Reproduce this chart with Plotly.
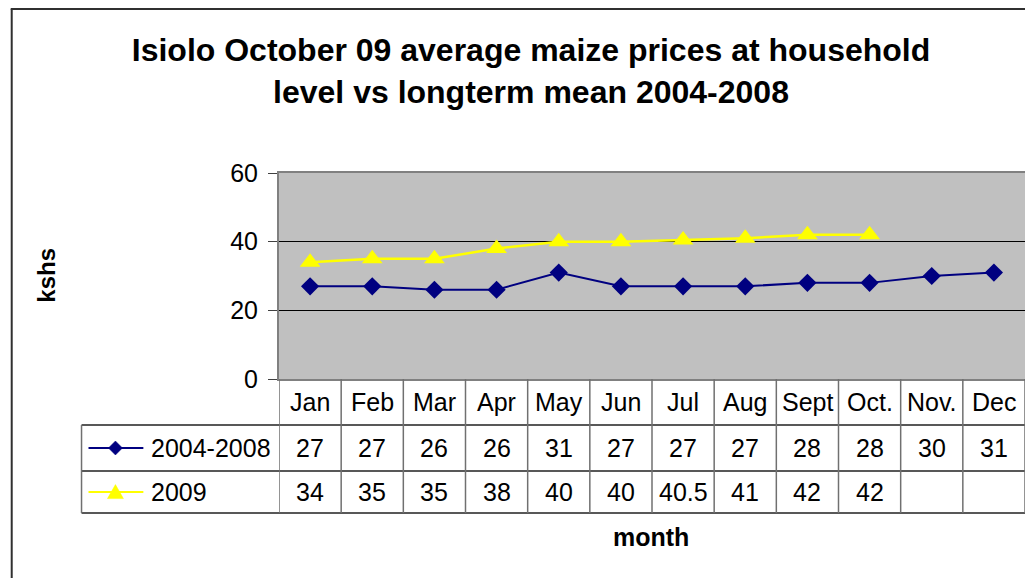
import plotly.graph_objects as go

months = ["Jan", "Feb", "Mar", "Apr", "May", "Jun", "Jul", "Aug", "Sept", "Oct.", "Nov.", "Dec"]
mean_2004_2008 = [27, 27, 26, 26, 31, 27, 27, 27, 28, 28, 30, 31]
prices_2009 = [34, 35, 35, 38, 40, 40, 40.5, 41, 42, 42, None, None]
series_names = ["2004-2008", "2009"]
y_ticks = [0, 20, 40, 60]

FONT = "Liberation Sans, Arial, sans-serif"
NAVY = "#000080"
YELLOW = "#FFFF00"

# the page body has an 8px margin; work in reference pixels and shift
OFF = 8
W, H = 1033 - OFF, 578 - OFF
PL, PR, PT, PB = 279, 1027, 173, 379      # plot area in reference pixels
pw, ph = PR - PL, PB - PT


def px(x):
    return (x - PL) / pw


def py(y):
    return (PB - y) / ph


fig = go.Figure()
fig.add_trace(go.Scatter(
    x=months, y=mean_2004_2008, mode="lines+markers", name=series_names[0],
    line=dict(color=NAVY, width=2),
    marker=dict(symbol="diamond", size=14, color=NAVY),
    showlegend=False))
fig.add_trace(go.Scatter(
    x=months, y=prices_2009, mode="lines+markers", name=series_names[1],
    line=dict(color=YELLOW, width=2.5),
    marker=dict(symbol="triangle-up", size=18, color=YELLOW),
    showlegend=False))

shapes = []
annotations = []

row_top, row1, row2, row_bot = 379, 425, 471, 513
legend_left = 81
LINE_DARK = "#202020"
LINE_GRAY = "#707070"
TFS = 25

# horizontal table lines
for yy in (row1, row2, row_bot):
    shapes.append(dict(type="line", xref="paper", yref="paper",
                       x0=px(legend_left), x1=px(PR), y0=py(yy), y1=py(yy),
                       line=dict(color=LINE_DARK, width=1.3)))
# legend column left border
shapes.append(dict(type="line", xref="paper", yref="paper",
                   x0=px(legend_left), x1=px(legend_left), y0=py(row1), y1=py(row_bot),
                   line=dict(color=LINE_GRAY, width=1.5)))
# vertical column lines
for k in range(len(months) + 1):
    shapes.append(dict(type="line", xref="x", yref="paper",
                       x0=k - 0.5, x1=k - 0.5, y0=py(row_top), y1=py(row_bot),
                       line=dict(color=LINE_GRAY, width=1.5)))

# month labels and values
for i, m in enumerate(months):
    annotations.append(dict(x=m, y=py((row_top + row1) / 2), xref="x", yref="paper",
                            text=m, showarrow=False, xanchor="center", yanchor="middle",
                            font=dict(family=FONT, size=TFS, color="black")))
    for vals, (ya, yb) in ((mean_2004_2008, (row1, row2)), (prices_2009, (row2, row_bot))):
        v = vals[i]
        if v is None:
            continue
        annotations.append(dict(x=m, y=py((ya + yb) / 2), xref="x", yref="paper",
                                text=f"{v:g}", showarrow=False, xanchor="center", yanchor="middle",
                                font=dict(family=FONT, size=TFS, color="black")))


def diamond_path(cx, cy, r):
    pts = [(cx, cy - r), (cx + r, cy), (cx, cy + r), (cx - r, cy)]
    return "M " + " L ".join(f"{px(a):.5f},{py(b):.5f}" for a, b in pts) + " Z"


def triangle_path(cx, cy, w, h):
    pts = [(cx, cy - h * 0.6), (cx + w / 2, cy + h * 0.4), (cx - w / 2, cy + h * 0.4)]
    return "M " + " L ".join(f"{px(a):.5f},{py(b):.5f}" for a, b in pts) + " Z"


# legend keys inside table
keys = ((series_names[0], NAVY, (row1, row2)), (series_names[1], YELLOW, (row2, row_bot)))
for j, (name, color, (ya, yb)) in enumerate(keys):
    yc = (ya + yb) / 2
    shapes.append(dict(type="line", xref="paper", yref="paper",
                       x0=px(88), x1=px(143), y0=py(yc), y1=py(yc),
                       line=dict(color=color, width=2)))
    path = diamond_path(115, yc, 7) if j == 0 else triangle_path(115, yc + 1, 16, 14)
    shapes.append(dict(type="path", xref="paper", yref="paper", path=path,
                       fillcolor=color, line=dict(color=color, width=0.5)))
    annotations.append(dict(x=px(149), y=py(yc), xref="paper", yref="paper",
                            text=name, showarrow=False, xanchor="left", yanchor="middle",
                            font=dict(family=FONT, size=TFS, color="black")))

# outer chart border (left and top)
shapes.append(dict(type="line", xref="paper", yref="paper",
                   x0=px(11), x1=px(11), y0=py(9), y1=py(H + 20),
                   line=dict(color="#303030", width=2)))
shapes.append(dict(type="line", xref="paper", yref="paper",
                   x0=px(10), x1=px(W + 20), y0=py(9), y1=py(9),
                   line=dict(color="#303030", width=2)))

# axis titles
annotations.append(dict(x=px(45), y=py(275), xref="paper", yref="paper", text="<b>kshs</b>",
                        textangle=-90, showarrow=False, xanchor="center", yanchor="middle",
                        font=dict(family=FONT, size=24, color="black")))
annotations.append(dict(x=px(652), y=py(537), xref="paper", yref="paper", text="<b>month</b>",
                        showarrow=False, xanchor="center", yanchor="middle",
                        font=dict(family=FONT, size=25, color="black")))

fig.update_layout(
    width=W, height=H,
    margin=dict(l=PL - OFF, r=W - (PR - OFF), t=PT - OFF, b=H - (PB - OFF), pad=0),
    paper_bgcolor="white", plot_bgcolor="#C0C0C0",
    title=dict(text="<b>Isiolo October 09 average maize prices at household<br>level vs longterm mean 2004-2008</b>",
               x=(531 - OFF) / W, xanchor="center", y=1 - 53 / H, yanchor="middle",
               font=dict(family=FONT, size=32, color="black")),
    xaxis=dict(type="category", categoryarray=months, range=[-0.5, len(months) - 0.5],
               showticklabels=False, ticks="", showgrid=False, zeroline=False,
               showline=True, mirror=True, linecolor="#808080", linewidth=2),
    yaxis=dict(range=[0, 60], tickvals=y_ticks, ticks="outside", ticklen=9, tickcolor="#404040",
               ticklabelstandoff=5,
               tickfont=dict(family=FONT, size=25, color="black"),
               showgrid=True, gridcolor="black", gridwidth=1, zeroline=False,
               showline=True, mirror=True, linecolor="#808080", linewidth=2),
    shapes=shapes, annotations=annotations,
)

fig.write_html("out.html")
